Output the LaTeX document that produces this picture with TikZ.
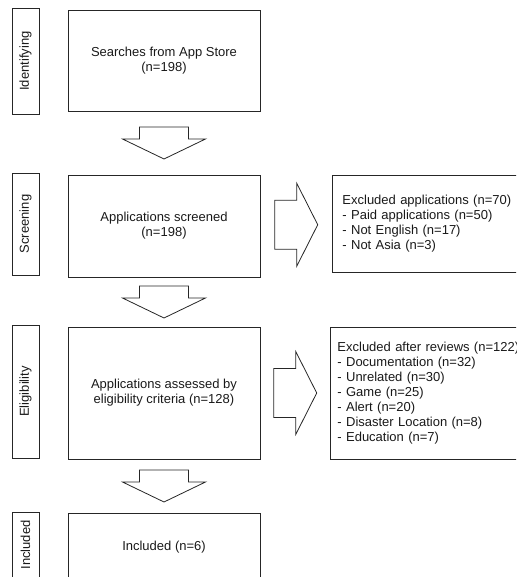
\documentclass[tikz,border=0pt]{standalone}
\usepackage{fontspec}
\setmainfont{Liberation Sans}
\usetikzlibrary{calc}

\tikzset{
  box/.style={draw=black!85, line width=0.9pt, minimum width=192pt, align=center, inner sep=0pt},
  phase/.style={draw=black!85, line width=0.9pt, rotate=90, minimum height=27pt, inner sep=0pt},
  excl/.style={draw=black!85, line width=0.9pt, anchor=west, align=left, inner ysep=0pt},
  blockarrow/.style={draw=black!85, line width=0.8pt, line join=miter}
}

\begin{document}
\begin{tikzpicture}[x=1pt, y=1pt, font=\fontsize{13}{15}\selectfont, text=black!90]

  \useasboundingbox (0,0) rectangle (516,577);
  \clip (0,0) rectangle (516,577);

  % phase labels
  \node[phase, minimum width=106pt] (idl) at (25.5,516) {Identifying};
  \node[phase, minimum width=102pt] (scl) at (25.5,353) {Screening};
  \node[phase, minimum width=133pt] (ell) at (25.5,185.5) {Eligibility};
  \node[phase, minimum width=66pt] (inl) at (25.5,32) {Included};

  % main boxes
  \node[box, minimum height=101pt] (search) at (164,516.5) {Searches from App Store\\(n=198)};
  \node[box, minimum height=102pt] (screen) at (164,351) {Applications screened\\(n=198)};
  \node[box, minimum height=132pt] (assess) at (164,184) {Applications assessed by\\eligibility criteria (n=128)};
  \node[box, minimum height=68pt] (incl) at (164,30) {Included (n=6)};

  % excluded boxes
  \node[excl, minimum height=97pt, inner xsep=10pt, text width=178pt] (excla) at (332,353.5)
    {Excluded applications (n=70)\\
     - Paid applications (n=50)\\
     - Not English (n=17)\\
     - Not Asia (n=3)};
  \node[excl, minimum height=132pt, inner xsep=7pt, text width=190pt] (exclb) at (330,184)
    {Excluded after reviews (n=122)\\
     - Documentation (n=32)\\
     - Unrelated (n=30)\\
     - Game (n=25)\\
     - Alert (n=20)\\
     - Disaster Location (n=8)\\
     - Education (n=7)};

  % down arrows
  \foreach \a/\b in {search/screen, screen/assess, assess/incl}{
    \coordinate (m) at ($(\a.south)!0.5!(\b.north)$);
    \draw[blockarrow] (m) ++(-24.5,16) -- ++(49,0) -- ++(0,-12) -- ++(17,0)
      -- ++(-41.5,-20) -- ++(-41.5,20) -- ++(17,0) -- cycle;
  }

  % right arrows
  \foreach \a/\b in {screen/excla, assess/exclb}{
    \coordinate (m) at ($(\a.east)!0.5!(\b.west)$);
    \draw[blockarrow] (m) ++(-21.5,24.5) -- ++(22,0) -- ++(0,17) -- ++(21,-41.5)
      -- ++(-21,-41.5) -- ++(0,17) -- ++(-22,0) -- cycle;
  }

\end{tikzpicture}
\end{document}
